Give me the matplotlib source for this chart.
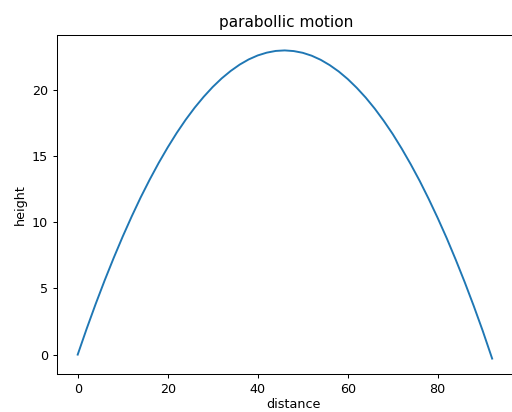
import matplotlib
matplotlib.use("Agg")
import matplotlib.pyplot as plt

distance = [0, 2, 4, 6, 8, 10, 12, 14, 16, 18, 20, 22, 24, 26, 28, 30, 32,
            34, 36, 38, 40, 42, 44, 46, 48, 50, 52, 54, 56, 58, 60, 62, 64,
            66, 68, 70, 72, 74, 76, 78, 80, 82, 84, 86, 88, 90, 92.1]
height = [0, 1.96, 3.83, 5.61, 7.30, 8.91, 10.43, 11.87, 13.21, 14.47,
          15.64, 16.73, 17.73, 18.64, 19.46, 20.20, 20.85, 21.41, 21.89,
          22.28, 22.58, 22.79, 22.92, 22.96, 22.91, 22.78, 22.56, 22.25,
          21.85, 21.37, 20.80, 20.14, 19.40, 18.57, 17.65, 16.65, 15.55,
          14.37, 13.11, 11.75, 10.31, 8.79, 7.17, 5.47, 3.68, 1.80, -0.3]

dpi = 92
fig = plt.figure(figsize=(512 / dpi, 412 / dpi), dpi=dpi)
# the original was cropped inside the right edge of the axes,
# so let the axes run past the figure and keep the x scale fixed
ax = fig.add_axes([57 / 512, 38 / 412, 480 / 512, 339 / 412])
ax.plot(distance, height)
ax.set_xlim(-4.6, -4.6 + 480 / 4.5)
ax.set_xticks([0, 20, 40, 60, 80])
ax.set_xlabel('distance', labelpad=2)
ax.xaxis.set_label_coords(236 / 480, -0.07)
ax.set_ylabel('height')
ax.set_title('parabollic motion')
ax.title.set_position((229 / 480, 1.0))
fig.savefig('out.png', dpi=dpi)
